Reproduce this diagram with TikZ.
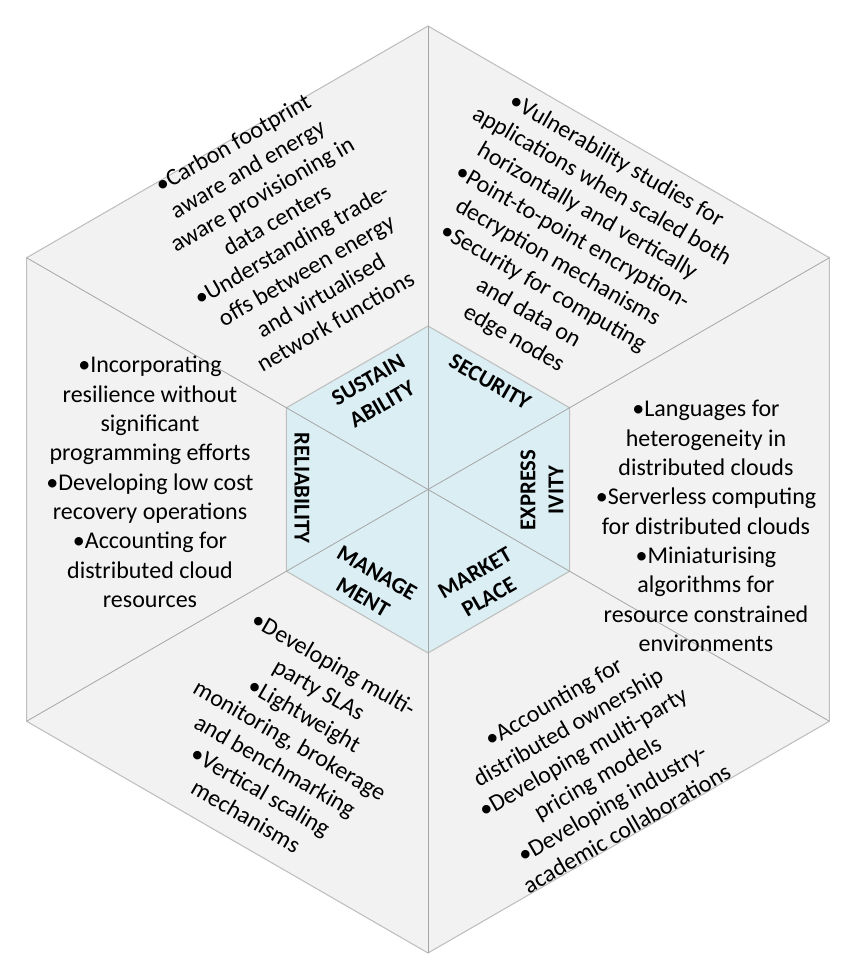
\documentclass[tikz,border=0pt]{standalone}
\usepackage{fontspec}
\setmainfont{Carlito}
\usetikzlibrary{calc}
\definecolor{outerfill}{HTML}{F2F2F2}
\definecolor{innerfill}{HTML}{DAEEF3}
\definecolor{edgegray}{HTML}{BFBFBF}
\definecolor{spokegray}{HTML}{A6A6A6}
\begin{document}
\begin{tikzpicture}[x=0.75pt,y=0.75pt,
  bodytext/.style={align=center,inner sep=0pt,font=\fontsize{18}{22}\selectfont},
  facetlabel/.style={align=center,inner sep=0pt,font=\fontsize{17}{21}\selectfont\bfseries}]
\useasboundingbox (0,0) rectangle (856,972);
\coordinate (c) at (428,482.5);
\foreach \a/\n in {90/t,30/tr,-30/br,-90/b,-150/bl,150/tl}{
  \coordinate (o\n) at ($(c)+(\a:463.5)$);
  \coordinate (i\n) at ($(c)+(\a:163.5)$);
}
\fill[outerfill,draw=edgegray,line width=0.8pt] (ot)--(otr)--(obr)--(ob)--(obl)--(otl)--cycle;
\fill[innerfill,draw=edgegray,line width=0.8pt] (it)--(itr)--(ibr)--(ib)--(ibl)--(itl)--cycle;
\foreach \n in {t,tr,br,b,bl,tl}{
  \draw[spokegray,line width=0.6pt] (c)--(o\n);
}
% facet labels
\node[facetlabel,rotate=30] (lsus) at (375,580) {SUSTAIN\\ABILITY};
\node[facetlabel,rotate=-30] (lsec) at (490,590) {SECURITY};
\node[facetlabel,rotate=90] (lexp) at (542,482) {EXPRESS\\IVITY};
\node[facetlabel,rotate=-90] (lrel) at (302,484) {RELIABILITY};
\node[facetlabel,rotate=-30] (lman) at (370,387) {MANAGE\\MENT};
\node[facetlabel,rotate=30] (lmar) at (482,387) {MARKET\\PLACE};
% texts
\node[bodytext] (tleft) at (150,490) {•Incorporating\\resilience without\\significant\\programming efforts\\•Developing low cost\\recovery operations\\•Accounting for\\distributed cloud\\resources};
\node[bodytext] (tright) at (706,446) {•Languages for\\heterogeneity in\\distributed clouds\\•Serverless computing\\for distributed clouds\\•Miniaturising\\algorithms for\\resource constrained\\environments};
\node[bodytext,rotate=30] (ttl) at (284,740) {•Carbon footprint\\aware and energy\\aware provisioning in\\data centers\\•Understanding trade-\\offs between energy\\and virtualised\\network functions};
\node[bodytext,rotate=-30] (ttr) at (565,722) {•Vulnerability studies for\\applications when scaled both\\horizontally and vertically\\•Point-to-point encryption-\\decryption mechanisms\\•Security for computing\\and data on\\edge nodes};
\node[bodytext,rotate=-30] (tbl) at (290,232) {•Developing multi-\\party SLAs\\•Lightweight\\monitoring, brokerage\\and benchmarking\\•Vertical scaling\\mechanisms};
\node[bodytext,rotate=30] (tbr) at (590,207) {•Accounting for\\distributed ownership\\•Developing multi-party\\pricing models\\•Developing industry-\\academic collaborations};
\end{tikzpicture}
\end{document}
